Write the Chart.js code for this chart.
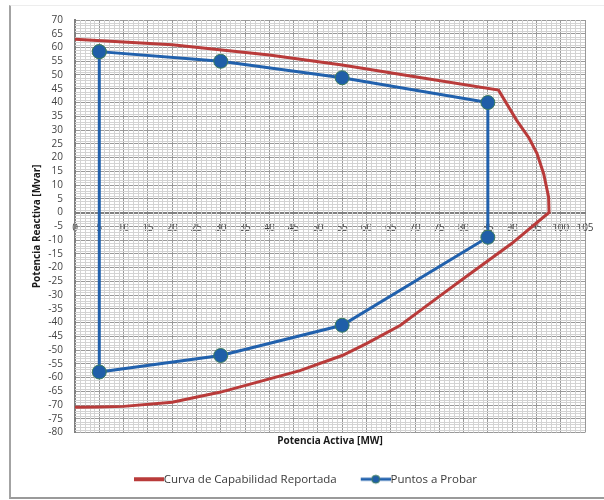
<!DOCTYPE html>
<html>
<head>
<meta charset="utf-8">
<script src="https://cdn.jsdelivr.net/npm/chart.js@4/dist/chart.umd.min.js"></script>
<style>
  html, body { margin: 0; padding: 0; background: #fff; }
  #wrap { position: relative; width: 604px; height: 500px; }
  #frame { position: absolute; left: 9px; top: 5px; width: 597px; height: 491px;
           border-left: 2px solid #a3a3a3; border-bottom: 2px solid #9a9a9a; border-top: 1px solid #ededed;
           pointer-events: none; }
</style>
</head>
<body>
<div id="wrap">
  <canvas id="c" width="604" height="500"></canvas>
  <div id="frame"></div>
</div>
<script>
// ---- Data ----
const xTickStep = 5;      // MW
const yTickStep = 5;      // Mvar
const xRange = [0, 105];
const yRange = [-80, 70];

// Curva de Capabilidad Reportada
const capP = [0, 20, 40, 55, 70, 87.2, 90.9, 93.5, 95.1, 96.5, 97.5, 97.6, 89.9, 80, 75, 67, 60, 55, 46.3, 30, 20, 10, 5, 0];
const capQ = [63, 61, 57.3, 53.6, 49.4, 44.5, 33.6, 27, 21.5, 14, 5.7, 0, -11.3, -24, -30.5, -41, -47.7, -52, -57.5, -65.3, -69, -70.5, -70.7, -70.8];

// Puntos a Probar
const testP = [5, 30, 55, 85, 85, 55, 30, 5, 5];
const testQ = [58.5, 55, 49, 40, -9, -41, -52, -58, 58.5];

const seriesNames = ['Curva de Capabilidad Reportada', 'Puntos a Probar'];
const xTitle = 'Potencia Activa [MW]';
const yTitle = 'Potencia Reactiva [Mvar]';

const RED = '#b93b3a';
const BLUE = '#2161ad';
const FONT = '"Open Sans", "DejaVu Sans", sans-serif';

const toXY = (xs, ys) => xs.map((x, i) => ({ x: x, y: ys[i] }));

// legend icons (line drawn in right part of a wider transparent canvas)
function makeIcon(color, withDot) {
  const cv = document.createElement('canvas');
  cv.width = 50; cv.height = 12;
  const g = cv.getContext('2d');
  g.strokeStyle = color; g.lineWidth = withDot ? 3 : 4;
  g.beginPath(); g.moveTo(20, 6); g.lineTo(50, 6); g.stroke();
  if (withDot) {
    g.fillStyle = '#1f5ea8'; g.strokeStyle = '#3d7d5e'; g.lineWidth = 1;
    g.beginPath(); g.arc(35, 6, 4, 0, Math.PI * 2); g.fill(); g.stroke();
  }
  return cv;
}
const icons = [makeIcon(RED, false), makeIcon(BLUE, true)];

// minor grid (every 1 unit) drawn through the library's scales
const minorGrid = {
  id: 'minorGrid',
  beforeDatasetsDraw(chart) {
    const { ctx, chartArea: a, scales: { x, y } } = chart;
    ctx.save();
    ctx.strokeStyle = '#d3d3d3';
    ctx.lineWidth = 1;
    ctx.beginPath();
    for (let v = xRange[0]; v <= xRange[1]; v++) {
      if (v % xTickStep === 0) continue;
      const px = Math.round(x.getPixelForValue(v)) + 0.5;
      ctx.moveTo(px, a.top); ctx.lineTo(px, a.bottom);
    }
    for (let v = yRange[0]; v <= yRange[1]; v++) {
      if (v % yTickStep === 0) continue;
      const py = Math.round(y.getPixelForValue(v)) + 0.5;
      ctx.moveTo(a.left, py); ctx.lineTo(a.right, py);
    }
    ctx.stroke();
    ctx.restore();
  }
};

new Chart(document.getElementById('c'), {
  type: 'scatter',
  data: {
    datasets: [
      {
        label: seriesNames[0],
        data: toXY(capP, capQ),
        showLine: true,
        borderColor: RED,
        backgroundColor: RED,
        borderWidth: 3,
        pointRadius: 0,
        tension: 0
      },
      {
        label: seriesNames[1],
        data: toXY(testP, testQ),
        showLine: true,
        borderColor: BLUE,
        backgroundColor: '#1f5ea8',
        borderWidth: 3,
        pointRadius: 7,
        pointBorderColor: '#3d7d5e',
        pointBorderWidth: 1,
        tension: 0
      }
    ]
  },
  options: {
    responsive: false,
    animation: false,
    layout: { padding: { left: 12, right: 19, top: 20, bottom: 5 } },
    plugins: {
      tooltip: { enabled: false },
      title: {
        display: true,
        text: xTitle,
        position: 'bottom',
        fullSize: false,
        weight: 500,
        color: '#1a1a1a',
        font: { family: FONT, size: 10, weight: 'bold' },
        padding: { top: 3, bottom: 16 }
      },
      legend: {
        position: 'bottom',
        labels: {
          usePointStyle: true,
          pointStyleWidth: 38,
          padding: 10,
          color: '#3a3a3a',
          font: { family: FONT, size: 11.5 },
          generateLabels(chart) {
            const items = Chart.defaults.plugins.legend.labels.generateLabels(chart);
            items.forEach((it, i) => { it.pointStyle = icons[i]; });
            return items;
          }
        }
      }
    },
    scales: {
      x: {
        type: 'linear',
        position: { y: 0 },
        min: xRange[0],
        max: xRange[1],
        ticks: { stepSize: xTickStep, autoSkip: false, maxRotation: 0, padding: 10,
                 color: '#444', font: { family: FONT, size: 10 } },
        grid: { color: '#999999', lineWidth: 1, drawTicks: false },
        border: { display: true, color: '#808080', width: 2 }
      },
      y: {
        type: 'linear',
        position: 'left',
        min: yRange[0],
        max: yRange[1],
        afterFit(s) { s.width = 63; },
        title: {
          display: true,
          text: yTitle,
          color: '#1a1a1a',
          font: { family: FONT, size: 10, weight: 'bold' },
          padding: { top: 19, bottom: 0 }
        },
        ticks: { stepSize: yTickStep, autoSkip: false, padding: 12,
                 color: '#444', font: { family: FONT, size: 10 } },
        grid: { color: '#999999', lineWidth: 1, drawTicks: false },
        border: { display: true, color: '#808080', width: 2 }
      }
    }
  },
  plugins: [minorGrid]
});
</script>
</body>
</html>
